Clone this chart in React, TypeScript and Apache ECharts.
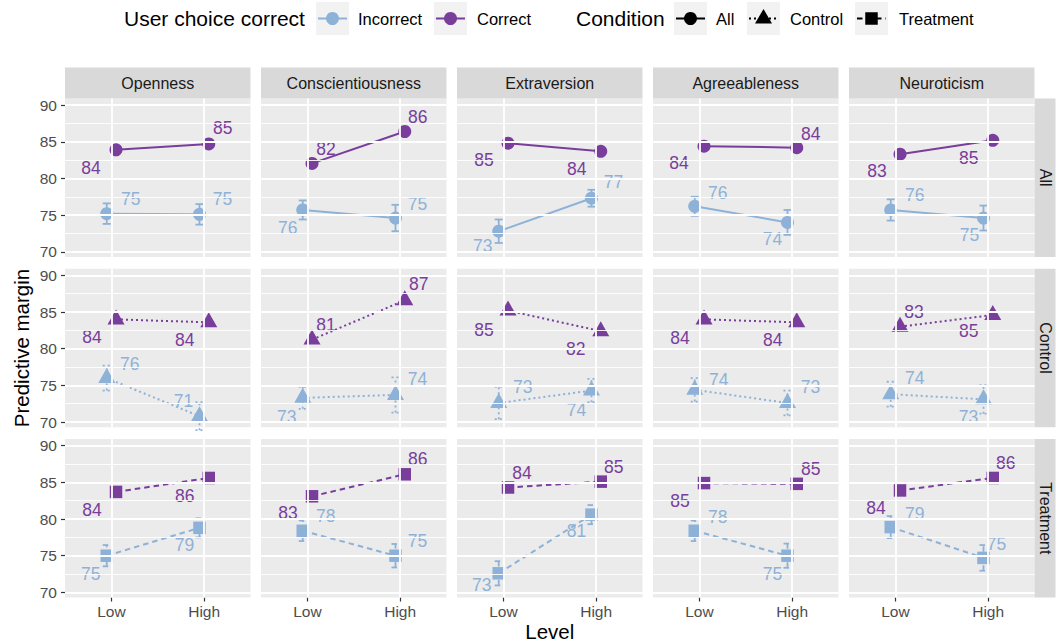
import { useEffect, useRef } from "react";
import * as echarts from "echarts";

// Facets
const traits = ["Openness", "Conscientiousness", "Extraversion", "Agreeableness", "Neuroticism"];
const conditions = ["All", "Control", "Treatment"];
const levels = ["Low", "High"];
const yMajorTicks = [70, 75, 80, 85, 90];
const yMinorTicks = [72.5, 77.5, 82.5, 87.5];

// Predictive margins per trait as [Low, High]
const correctAll = [[83.9, 84.7], [82.05, 86.4], [84.8, 83.7], [84.4, 84.2], [83.3, 85.2]];
const incorrectAll = [[75.2, 75.1], [75.7, 74.6], [72.8, 77.3], [76.2, 74.0], [75.7, 74.6]];
const incorrectAllCI = [[1.4, 1.4], [1.3, 1.8], [1.6, 1.15], [1.3, 1.7], [1.45, 1.7]];

const correctControl = [[84.0, 83.6], [81.25, 86.6], [85.2, 82.4], [84.0, 83.6], [83.0, 84.6]];
const incorrectControl = [[76.0, 70.8], [73.3, 73.7], [72.6, 74.3], [74.4, 72.6], [73.8, 73.1]];
const incorrectControlCI = [[1.7, 1.9], [1.5, 2.4], [2.2, 1.6], [1.6, 1.7], [1.7, 1.95]];

const correctTreatment = [[83.7, 85.6], [83.1, 86.1], [84.3, 85.1], [84.9, 84.8], [83.9, 85.6]];
const incorrectTreatment = [[75.0, 78.8], [78.4, 75.0], [72.6, 80.6], [78.4, 75.0], [78.9, 74.7]];
const incorrectTreatmentCI = [[1.45, 1.3], [1.4, 1.6], [1.65, 1.3], [1.4, 1.65], [1.5, 1.75]];

// Text label placement (px) per trait: [correct Low, correct High, incorrect Low, incorrect High]
const labelOffsetsAll = [
  [[-25, 18], [14, -16], [24, -15], [23, -15]],
  [[14, -14], [13, -15], [-15, 18], [22, -14]],
  [[-24, 17], [-24, 18], [-16, 15], [22, -16]],
  [[-25, 17], [14, -14], [23, -13], [-15, 17]],
  [[-23, 17], [-24, 18], [24, -15], [-14, 17]],
];
const labelOffsetsControl = [
  [[-24, 18], [-24, 18], [23, -14], [-16, -15]],
  [[14, -15], [14, -16], [-16, 19], [22, -16]],
  [[-24, 19], [-25, 18], [24, -16], [-15, 19]],
  [[-24, 19], [-24, 18], [24, -10], [23, -16]],
  [[14, -15], [-24, 16], [24, -16], [-15, 18]],
];
const labelOffsetsTreatment = [
  [[-24, 18], [-24, 18], [-16, 18], [-15, 17]],
  [[-24, 17], [13, -15], [23, -15], [22, -15]],
  [[14, -15], [13, -15], [-17, 12], [-15, 16]],
  [[-24, 18], [14, -15], [23, -14], [-15, 18]],
  [[-24, 18], [13, -15], [24, -13], [13, -14]],
];

const correctByCond = [correctAll, correctControl, correctTreatment];
const incorrectByCond = [incorrectAll, incorrectControl, incorrectTreatment];
const ciByCond = [incorrectAllCI, incorrectControlCI, incorrectTreatmentCI];
const offsetsByCond = [labelOffsetsAll, labelOffsetsControl, labelOffsetsTreatment];

// Styling
const FONT = "'Liberation Sans', Arial, Helvetica, sans-serif";
const BLUE = "#8EB2D7";
const PURPLE = "#793D9C";
const PANEL_BG = "#EBEBEB";
const STRIP_BG = "#D9D9D9";
const AXIS_TEXT = "#4D4D4D";
const DODGE = 0.05;
const Y_MIN = 69.3;
const Y_MAX = 90.9;

const PANEL_LEFT = 65;
const PANEL_STEP_X = 196;
const PANEL_W = 185.5;
const PANEL_TOP = 98.5;
const PANEL_STEP_Y = 170.3;
const PANEL_H = 158.4;
const STRIP_H = 31;
const STRIP_W = 21;

const LINE_W = 2;
const symbols = ["circle", "triangle", "rect"];
const symbolSizes: any[] = [13, [17, 15], 12.5];
const symbolOffsets: any[] = [[0, 0], [0, -2.5], [0, 0]];
const lineDashes: any[] = ["solid", [2, 3], [5.5, 4]];

function buildOption() {
  const grid: any[] = [];
  const xAxis: any[] = [];
  const yAxis: any[] = [];
  const series: any[] = [];
  const graphics: any[] = [];

  conditions.forEach((cond, r) => {
    traits.forEach((trait, c) => {
      const i = r * traits.length + c;
      const left = PANEL_LEFT + PANEL_STEP_X * c;
      const top = PANEL_TOP + PANEL_STEP_Y * r;
      grid.push({
        left,
        top,
        width: PANEL_W,
        height: PANEL_H,
        show: true,
        backgroundColor: PANEL_BG,
        borderWidth: 0,
        containLabel: false,
        outerBoundsMode: "none",
      });
      xAxis.push({
        gridIndex: i,
        type: "value",
        min: 0.5,
        max: 2.5,
        axisLine: { show: false },
        splitLine: { show: false },
        axisTick: {
          show: r === conditions.length - 1,
          customValues: [1, 2],
          length: 4,
          lineStyle: { color: "#333333", width: 1.2 },
        },
        axisLabel: {
          show: r === conditions.length - 1,
          customValues: [1, 2],
          formatter: (v: number) => levels[Math.round(v) - 1] ?? "",
          color: AXIS_TEXT,
          fontSize: 15.5,
          fontFamily: FONT,
          margin: 6,
        },
      });
      yAxis.push({
        gridIndex: i,
        type: "value",
        min: Y_MIN,
        max: Y_MAX,
        axisLine: { show: false },
        splitLine: { show: false },
        axisTick: {
          show: c === 0,
          customValues: yMajorTicks,
          length: 4,
          lineStyle: { color: "#333333", width: 1.2 },
        },
        axisLabel: {
          show: c === 0,
          customValues: yMajorTicks,
          color: AXIS_TEXT,
          fontSize: 15.5,
          fontFamily: FONT,
          margin: 8,
        },
      });

      // panel grid lines
      series.push({
        type: "line",
        xAxisIndex: i,
        yAxisIndex: i,
        data: [],
        silent: true,
        z: 1,
        markLine: {
          silent: true,
          symbol: ["none", "none"],
          label: { show: false },
          lineStyle: { color: "#FFFFFF", type: "solid" },
          emphasis: { disabled: true },
          data: [
            ...yMinorTicks.map((v) => ({ yAxis: v, lineStyle: { width: 0.9, color: "#FFFFFF", type: "solid" } })),
            ...yMajorTicks.map((v) => ({ yAxis: v, lineStyle: { width: 1.8, color: "#FFFFFF", type: "solid" } })),
            ...[1, 2].map((v) => ({ xAxis: v, lineStyle: { width: 1.8, color: "#FFFFFF", type: "solid" } })),
          ],
        },
      });

      const incorrect = incorrectByCond[r][c];
      const ci = ciByCond[r][c];
      const correct = correctByCond[r][c];
      const offs = offsetsByCond[r][c];
      const dash = lineDashes[r];
      const labelShift = symbolOffsets[r][1];

      // error bars for incorrect choices
      series.push({
        type: "custom",
        xAxisIndex: i,
        yAxisIndex: i,
        z: 2,
        silent: true,
        data: incorrect.map((v, j) => [j + 1 - DODGE, v - ci[j], v + ci[j]]),
        encode: { x: 0, y: [1, 2] },
        renderItem: (_params: any, api: any) => {
          const x = api.value(0);
          const lo = api.coord([x, api.value(1)]);
          const hi = api.coord([x, api.value(2)]);
          const cap = 4;
          const style: any = { stroke: BLUE, lineWidth: 1.8, fill: null };
          if (dash !== "solid") style.lineDash = dash;
          return {
            type: "group",
            children: [
              { type: "line", shape: { x1: lo[0], y1: lo[1], x2: hi[0], y2: hi[1] }, style },
              { type: "line", shape: { x1: hi[0] - cap, y1: hi[1], x2: hi[0] + cap, y2: hi[1] }, style },
              { type: "line", shape: { x1: lo[0] - cap, y1: lo[1], x2: lo[0] + cap, y2: lo[1] }, style },
            ],
          };
        },
      });

      const makeLine = (name: string, values: number[], color: string, sign: number, offIdx: number) => ({
        type: "line",
        name,
        xAxisIndex: i,
        yAxisIndex: i,
        z: 3,
        silent: true,
        symbol: symbols[r],
        symbolSize: symbolSizes[r],
        symbolOffset: symbolOffsets[r],
        showSymbol: true,
        lineStyle: { color, width: LINE_W, type: dash },
        itemStyle: { color, borderWidth: 0 },
        label: {
          show: true,
          position: "inside",
          formatter: (p: any) => String(Math.round(p.value[1])),
          color,
          fontSize: 17.5,
          fontFamily: FONT,
          textBorderWidth: 0,
        },
        data: values.map((v, j) => ({
          value: [j + 1 + sign * DODGE, v],
          label: { offset: [offs[offIdx + j][0], offs[offIdx + j][1] - labelShift] },
        })),
      });

      series.push(makeLine("Incorrect", incorrect, BLUE, -1, 2));
      series.push(makeLine("Correct", correct, PURPLE, 1, 0));

      // column strips
      if (r === 0) {
        graphics.push({
          type: "rect",
          shape: { x: left, y: PANEL_TOP - STRIP_H, width: PANEL_W, height: STRIP_H },
          style: { fill: STRIP_BG },
        });
        graphics.push({
          type: "text",
          x: left + PANEL_W / 2,
          y: PANEL_TOP - STRIP_H / 2,
          style: {
            text: trait,
            fill: "#1A1A1A",
            fontSize: 16,
            fontFamily: FONT,
            align: "center",
            verticalAlign: "middle",
            textAlign: "center",
            textVerticalAlign: "middle",
          },
        });
      }
      // row strips
      if (c === traits.length - 1) {
        const sx = left + PANEL_W;
        graphics.push({
          type: "rect",
          shape: { x: sx, y: top, width: STRIP_W, height: PANEL_H },
          style: { fill: STRIP_BG },
        });
        graphics.push({
          type: "text",
          x: sx + STRIP_W / 2,
          y: top + PANEL_H / 2,
          rotation: -Math.PI / 2,
          style: {
            text: cond,
            fill: "#1A1A1A",
            fontSize: 16,
            fontFamily: FONT,
            align: "center",
            verticalAlign: "middle",
            textAlign: "center",
            textVerticalAlign: "middle",
          },
        });
      }
    });
  });

  // axis titles
  const panelsRight = PANEL_LEFT + PANEL_STEP_X * (traits.length - 1) + PANEL_W;
  graphics.push({
    type: "text",
    x: (PANEL_LEFT + panelsRight) / 2,
    y: 631,
    style: {
      text: "Level",
      fill: "#000000",
      fontSize: 20.5,
      fontFamily: FONT,
      align: "center",
      verticalAlign: "middle",
      textAlign: "center",
      textVerticalAlign: "middle",
    },
  });
  graphics.push({
    type: "text",
    x: 21,
    y: PANEL_TOP + (PANEL_STEP_Y * 2 + PANEL_H) / 2,
    rotation: Math.PI / 2,
    style: {
      text: "Predictive margin",
      fill: "#000000",
      fontSize: 20.5,
      fontFamily: FONT,
      align: "center",
      verticalAlign: "middle",
      textAlign: "center",
      textVerticalAlign: "middle",
    },
  });

  // legend
  const KEY = 33;
  const KY = 2;
  const kc = KY + KEY / 2;
  const txt = (text: string, x: number, size: number) => ({
    type: "text",
    x,
    y: kc,
    style: {
      text,
      fill: "#000000",
      fontSize: size,
      fontFamily: FONT,
      align: "left",
      verticalAlign: "middle",
      textAlign: "left",
      textVerticalAlign: "middle",
    },
  });
  const keyBox = (x: number) => ({
    type: "rect",
    shape: { x, y: KY, width: KEY, height: KEY },
    style: { fill: "#F2F2F2" },
  });
  const keyLine = (x: number, color: string, dash: any) => {
    const style: any = { stroke: color, lineWidth: LINE_W };
    if (dash !== "solid") style.lineDash = dash;
    return { type: "line", shape: { x1: x + 2, y1: kc, x2: x + KEY - 2, y2: kc }, style };
  };
  const keyMarker = (x: number, color: string, kind: number) => {
    const cx = x + KEY / 2;
    if (kind === 0) return { type: "circle", shape: { cx, cy: kc, r: 6.5 }, style: { fill: color } };
    if (kind === 1)
      return {
        type: "polygon",
        shape: { points: [[cx, kc - 9.5], [cx + 8.5, kc + 5], [cx - 8.5, kc + 5]] },
        style: { fill: color },
      };
    return { type: "rect", shape: { x: cx - 6.25, y: kc - 6.25, width: 12.5, height: 12.5 }, style: { fill: color } };
  };

  graphics.push(txt("User choice correct", 124, 21));
  graphics.push(keyBox(316), keyLine(316, BLUE, "solid"), keyMarker(316, BLUE, 0));
  graphics.push(txt("Incorrect", 358, 16.5));
  graphics.push(keyBox(434), keyLine(434, PURPLE, "solid"), keyMarker(434, PURPLE, 0));
  graphics.push(txt("Correct", 477, 16.5));
  graphics.push(txt("Condition", 576, 21));
  const condKeys = [674, 747, 855];
  const condText = [716, 790, 899];
  conditions.forEach((cond, k) => {
    graphics.push(keyBox(condKeys[k]), keyLine(condKeys[k], "#000000", lineDashes[k]), keyMarker(condKeys[k], "#000000", k));
    graphics.push(txt(cond, condText[k], 16.5));
  });

  return {
    animation: false,
    backgroundColor: "#FFFFFF",
    textStyle: { fontFamily: FONT },
    grid,
    xAxis,
    yAxis,
    series,
    graphic: { elements: graphics },
  };
}

export default function App() {
  const ref = useRef<HTMLDivElement>(null);
  useEffect(() => {
    if (!ref.current) return;
    const chart = echarts.init(ref.current, undefined, { renderer: "svg" });
    chart.setOption(buildOption() as any);
    return () => chart.dispose();
  }, []);
  return (
    <div
      ref={ref}
      style={{ position: "fixed", left: 0, top: 0, width: 1060, height: 643, background: "#FFFFFF" }}
    />
  );
}
